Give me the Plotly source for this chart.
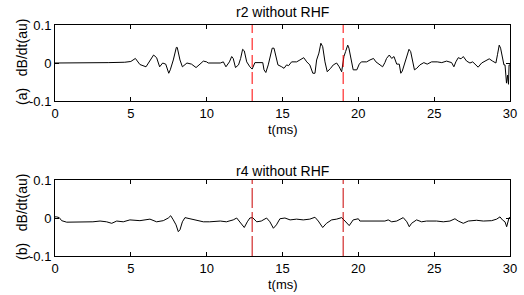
import plotly.graph_objects as go
from plotly.subplots import make_subplots

# ---- data ----
t_a = [0, 3.5, 3.55, 4.6, 5.0, 5.3, 5.6, 6.0, 6.2, 6.5,
       6.7, 6.9, 7.1, 7.3, 7.5, 7.6, 7.8, 8.0, 8.06, 8.24,
       8.4, 8.7, 9.0, 9.3, 9.56, 9.78, 10.0, 10.1, 10.9, 11.1,
       11.27, 11.5, 11.65, 11.75, 11.9, 12.1, 12.24, 12.37, 12.48, 12.64,
       12.85, 13.0, 13.18, 13.4, 13.7, 13.78, 13.9, 14.06, 14.17, 14.32,
       14.44, 14.57, 14.7, 14.95, 15.1, 15.27, 15.4, 15.6, 15.93, 16.15,
       16.4, 16.6, 16.8, 17.0, 17.14, 17.25, 17.4, 17.53, 17.65, 17.8,
       17.95, 18.17, 18.35, 18.57, 18.74, 18.9, 19.05, 19.16, 19.3, 19.38,
       19.56, 19.66, 19.9, 20.06, 20.2, 20.55, 20.77, 21.0, 21.16, 21.4,
       21.6, 21.75, 21.86, 22.04, 22.2, 22.35, 22.53, 22.7, 22.8, 22.9,
       23.07, 23.2, 23.34, 23.45, 23.58, 23.7, 23.85, 24.06, 24.32, 24.54,
       24.83, 25.2, 25.5, 25.82, 26.15, 26.3, 26.43, 26.59, 26.77, 26.92,
       27.14, 27.36, 27.54, 27.76, 27.9, 28.13, 28.35, 28.63, 28.85, 29.07,
       29.18, 29.29, 29.38, 29.5, 29.6, 29.67, 29.77, 29.84, 29.9, 29.94, 30.0]
v_a = [0, 0, 0.001, 0.002, 0.004, 0.012, -0.004, -0.01, 0.003, 0.021,
       0.014, -0.01, 0, -0.003, -0.027, -0.018, 0.008, 0.041, 0.041, 0.008,
       -0.01, 0, -0.003, -0.012, -0.003, 0.005, 0.003, 0, 0, 0.003,
       -0.01, 0.003, 0.017, 0.012, -0.012, -0.005, 0.012, 0.036, 0.032, 0.003,
       -0.01, -0.016, 0.001, 0.001, 0.001, -0.018, -0.025, -0.005, 0.012, 0.039,
       0.039, 0.017, -0.005, -0.01, -0.014, -0.005, -0.007, 0.003, 0.003, 0.008,
       0.014, 0.003, -0.005, -0.027, -0.027, 0.008, 0.026, 0.052, 0.043, 0.003,
       -0.023, -0.014, -0.005, 0, -0.01, -0.023, 0.017, 0.03, 0.047, 0.039,
       0, -0.018, -0.018, -0.003, 0.003, 0.003, 0.008, 0.012, 0.003, -0.003,
       -0.01, 0.001, 0.012, 0.021, 0.012, 0.017, -0.003, -0.003, -0.027, -0.021,
       0.003, 0.023, 0.036, 0.03, 0, -0.018, -0.014, -0.005, 0.001, -0.003,
       0.003, 0.003, 0.001, 0.005, 0.001, -0.01, 0.003, 0.014, 0.011, 0.017,
       0.005, 0, 0.003, -0.007, -0.011, 0, 0.005, 0.011, 0.005, 0,
       0.023, 0.047, 0.039, 0.012, -0.005, -0.005, -0.053, -0.032, -0.056, -0.005, -0.005]

t_b = [0, 0.1, 0.28, 0.44, 0.77, 1.43, 1.87, 2.5, 2.97, 3.4,
       3.74, 4.07, 4.5, 4.94, 5.6, 6.26, 6.7, 7.14, 7.47, 7.63,
       7.8, 7.98, 8.13, 8.24, 8.4, 8.57, 8.9, 9.34, 9.78, 10.2,
       10.9, 11.3, 11.75, 11.98, 12.2, 12.48, 12.68, 12.85, 13.03, 13.3,
       13.6, 13.95, 14.17, 14.4, 14.6, 14.83, 15.16, 15.5, 15.93, 16.37,
       16.8, 17.14, 17.36, 17.65, 17.9, 18.24, 18.57, 18.9, 19.12, 19.4,
       19.66, 20.0, 20.1, 20.77, 21.43, 21.75, 21.97, 22.2, 22.53, 22.85,
       22.96, 23.2, 23.36, 23.51, 23.84, 24.17, 24.5, 25.16, 25.6, 26.04,
       26.37, 26.59, 26.92, 27.25, 27.8, 28.24, 28.79, 29.12, 29.34, 29.5,
       29.67, 29.78, 29.87, 29.94, 30.0]
v_b = [0.003, 0.003, 0.001, -0.007, -0.011, -0.011, -0.01, -0.01, -0.008, -0.01,
       -0.014, -0.008, -0.01, -0.005, -0.007, -0.003, -0.01, -0.007, 0, 0.006,
       -0.005, -0.018, -0.036, -0.031, -0.01, 0.001, -0.002, -0.007, -0.01, -0.01,
       -0.008, -0.01, -0.005, 0, -0.01, -0.025, -0.01, 0, 0.001, -0.01,
       -0.008, 0, -0.01, -0.027, -0.018, -0.002, 0, -0.005, -0.003, -0.005,
       -0.003, 0.002, -0.008, -0.025, -0.014, -0.005, -0.003, 0.001, -0.008, -0.02,
       -0.005, -0.002, -0.008, -0.008, -0.008, -0.008, -0.005, -0.01, -0.008, 0,
       0.001, -0.01, -0.023, -0.014, -0.005, -0.01, -0.008, -0.008, -0.01, -0.008,
       -0.002, -0.008, -0.014, -0.008, -0.006, -0.008, -0.007, -0.003, 0.003, -0.005,
       -0.01, -0.023, -0.01, 0.001, 0.001]

marker_times = [13, 19]
x_ticks = [0, 5, 10, 15, 20, 25, 30]
y_ticks = [-0.1, 0, 0.1]
y_tick_text = ["-0.1", "0", "0.1"]
titles = ["r2 without RHF", "r4 without RHF"]
y_titles = ["(a)   dB/dt(au)", "(b)   dB/dt(au)"]
x_title = "t(ms)"

FONT = "Liberation Sans, Arial, sans-serif"
FS = 13
W, H = 524, 295
ML, MR, MT, MB = 55, 14, 25, 39
plot_h = H - MT - MB

def py(pix):
    return (H - MB - pix) / plot_h

def px(pix):
    return (pix - ML) / (W - ML - MR)

fig = make_subplots(rows=2, cols=1)
fig.add_trace(go.Scatter(x=t_a, y=v_a, mode="lines",
                         line=dict(color="black", width=1)), row=1, col=1)
fig.add_trace(go.Scatter(x=t_b, y=v_b, mode="lines",
                         line=dict(color="black", width=1)), row=2, col=1)

dom_top = [py(101), 1.0]
dom_bot = [0.0, py(180)]

axis_common = dict(showline=True, linecolor="black", linewidth=1, mirror="ticks",
                   ticks="inside", ticklen=4, tickcolor="black", showgrid=False,
                   zeroline=False, automargin=False,
                   tickfont=dict(family=FONT, size=FS, color="black"))

fig.update_xaxes(range=[0, 30], tickvals=x_ticks, **axis_common)
fig.update_yaxes(range=[-0.1, 0.1], tickvals=y_ticks, ticktext=y_tick_text, **axis_common)
fig.update_layout(yaxis=dict(domain=dom_top), yaxis2=dict(domain=dom_bot),
                  xaxis=dict(domain=[0, 1]), xaxis2=dict(domain=[0, 1]))

# marker lines
for tm in marker_times:
    fig.add_shape(type="line", x0=tm, x1=tm, y0=0, y1=1, xref="x", yref="y domain",
                  line=dict(color="#ff0000", width=1, dash="12px,5px"))
    fig.add_shape(type="line", x0=tm, x1=tm, y0=0, y1=1, xref="x2", yref="y2 domain",
                  line=dict(color="#c80000", width=1, dash="20px,4px"))

ann = []
for title, ypix in zip(titles, [12, 171]):
    ann.append(dict(text=title, x=0.5, y=py(ypix), xref="paper", yref="paper",
                    xanchor="center", yanchor="middle", showarrow=False,
                    font=dict(family=FONT, size=14, color="black")))
for ypix in [129, 284]:
    ann.append(dict(text=x_title, x=0.5, y=py(ypix), xref="paper", yref="paper",
                    xanchor="center", yanchor="middle", showarrow=False,
                    font=dict(family=FONT, size=FS, color="black")))
for yt, ypix in zip(y_titles, [62, 217]):
    ann.append(dict(text=yt, x=px(22), y=py(ypix), xref="paper", yref="paper",
                    xanchor="center", yanchor="middle", showarrow=False, textangle=-90,
                    font=dict(family=FONT, size=14, color="black")))

fig.update_layout(width=W, height=H, margin=dict(l=ML, r=MR, t=MT, b=MB),
                  paper_bgcolor="white", plot_bgcolor="white", showlegend=False,
                  annotations=ann, font=dict(family=FONT, size=FS, color="black"))

fig.write_html("out.html", config={"displayModeBar": False},
               post_script="document.body.style.margin='0';")
